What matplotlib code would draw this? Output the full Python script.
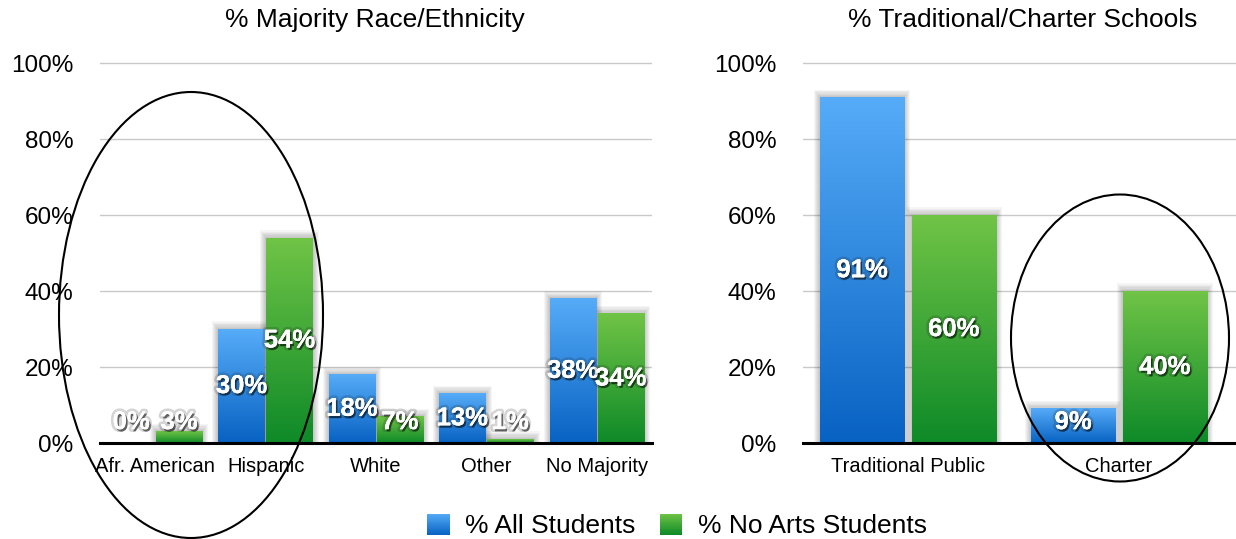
import numpy as np
import matplotlib
matplotlib.use('Agg')
import matplotlib.pyplot as plt
from matplotlib import font_manager
from matplotlib.patches import Ellipse, Rectangle, Patch
from matplotlib.colors import LinearSegmentedColormap, to_rgb
import matplotlib.patheffects as pe
from matplotlib.legend_handler import HandlerBase

# ---------------- data ----------------
race_categories = ["Afr. American", "Hispanic", "White", "Other", "No Majority"]
race_all = [0, 30, 18, 13, 38]
race_noarts = [3, 54, 7, 1, 34]
school_categories = ["Traditional Public", "Charter"]
school_all = [91, 9]
school_noarts = [60, 40]
series_names = ["% All Students", "% No Arts Students"]
yticks = [0, 20, 40, 60, 80, 100]
titles = ["% Majority Race/Ethnicity", "% Traditional/Charter Schools"]

BLUE = ("#56ACF8", "#0862C2")   # top, bottom
GREEN = ("#70C446", "#0E8A28")

plt.rcParams['font.family'] = ['Liberation Sans', 'DejaVu Sans']
_names = {f.name for f in font_manager.fontManager.ttflist}
LABEL_FONT = 'Liberation Sans Narrow' if 'Liberation Sans Narrow' in _names else 'Liberation Sans'
LABEL_SIZE = 21 if LABEL_FONT == 'Liberation Sans Narrow' else 18.5

FW, FH = 1236, 539
fig = plt.figure(figsize=(FW / 100, FH / 100), dpi=100)

OFF = 0.217


def px(x0, x1, y0, y1):
    return [x0 / FW, 1 - y1 / FH, (x1 - x0) / FW, (y1 - y0) / FH]


def style_axis(ax, cats, xlim):
    ax.set_xlim(*xlim)
    ax.set_ylim(0, 100.5)
    ax.set_yticks(yticks)
    ax.set_yticklabels([f"{t}%" for t in yticks])
    ax.set_xticks(range(len(cats)))
    ax.set_xticklabels(cats, fontsize=14.5)
    ax.tick_params(axis='y', length=0, pad=19, labelsize=17.5)
    ax.tick_params(axis='x', length=0, pad=10)
    ax.yaxis.grid(True, color='#C9C9C9', lw=1.0)
    ax.set_axisbelow(True)
    for s in ['top', 'right', 'left']:
        ax.spines[s].set_visible(False)
    ax.spines['bottom'].set_color('black')
    ax.spines['bottom'].set_linewidth(2.2)
    ax.spines['bottom'].set_zorder(6)


def grad_bars(ax, xs, vals, colors, bw):
    bars = ax.bar(xs, vals, width=bw, color='none', edgecolor='none', zorder=3)
    cmap = LinearSegmentedColormap.from_list('g', [colors[1], colors[0]])
    grad = np.linspace(0, 1, 256).reshape(-1, 1)
    xl = ax.get_xlim()
    ppx = ax.bbox.width / (xl[1] - xl[0])
    ppy = ax.bbox.height / 100.5
    for b in bars:
        x, w, h = b.get_x(), b.get_width(), b.get_height()
        if h <= 0:
            continue
        # soft shadow, strongest near the top
        for k in range(1, 7):
            dx = k * 1.0 / ppx
            dy = k * 1.3 / ppy
            ax.add_patch(Rectangle((x - dx, 0), w + 2 * dx, h + dy,
                                   facecolor='black', alpha=0.04,
                                   edgecolor='none', zorder=2.5))
        ax.imshow(grad, cmap=cmap, extent=(x, x + w, 0, h), origin='lower',
                  aspect='auto', zorder=3, interpolation='bilinear')
    return bars


def labels(ax, xs, vals):
    for x, v in zip(xs, vals):
        y = max(v / 2, 5.5)
        ax.text(x, y, f"{v}%", ha='center', va='center', color='white',
                fontsize=LABEL_SIZE, fontweight='bold', family=[LABEL_FONT, 'DejaVu Sans'],
                zorder=5,
                path_effects=[pe.withStroke(linewidth=4, foreground=(0.1, 0.1, 0.1, 0.18)),
                              pe.withSimplePatchShadow(offset=(1.2, -1.6),
                                                       shadow_rgbFace='black', alpha=0.55),
                              pe.Normal()])


def panel(rect, cats, all_vals, noarts_vals, xlim, bw):
    ax = fig.add_axes(rect)
    style_axis(ax, cats, xlim)
    xs = np.arange(len(cats))
    grad_bars(ax, xs - OFF, all_vals, BLUE, bw)
    grad_bars(ax, xs + OFF, noarts_vals, GREEN, bw)
    labels(ax, xs - OFF, all_vals)
    labels(ax, xs + OFF, noarts_vals)
    ax.set_xlim(*xlim)
    ax.set_ylim(0, 100.5)
    return ax


ax1 = panel(px(100, 652, 61.5, 443), race_categories, race_all, race_noarts, (-0.5, 4.5), 0.42)
ax2 = panel(px(803, 1236, 61.5, 443), school_categories, school_all, school_noarts,
            (-0.4976, -0.4976 + 433 / 211), 0.40)

fig.text(375 / FW, 1 - 20 / FH, titles[0], ha='center', va='center', fontsize=19)
fig.text(1023 / FW, 1 - 20 / FH, titles[1], ha='center', va='center', fontsize=19)

# highlight ellipses
fig.add_artist(Ellipse((191 / FW, 1 - 315 / FH), 264 / FW, 446 / FH,
                       transform=fig.transFigure, fill=False, edgecolor='black',
                       lw=1.5, zorder=10))
fig.add_artist(Ellipse((1120 / FW, 1 - 338 / FH), 218 / FW, 287 / FH,
                       transform=fig.transFigure, fill=False, edgecolor='black',
                       lw=1.5, zorder=10))


# legend with gradient squares
class GradHandler(HandlerBase):
    def __init__(self, colors):
        super().__init__()
        self.colors = colors

    def create_artists(self, legend, orig_handle, xdescent, ydescent,
                       width, height, fontsize, trans):
        top = np.array(to_rgb(self.colors[0]))
        bot = np.array(to_rgb(self.colors[1]))
        n = 24
        arts = []
        for i in range(n):
            f = (i + 0.5) / n
            arts.append(Rectangle((-xdescent, -ydescent + height * i / n), width,
                                  height / n * 1.05, facecolor=bot + (top - bot) * f,
                                  edgecolor='none', transform=trans))
        return arts


h1 = Patch(facecolor=BLUE[1])
h2 = Patch(facecolor=GREEN[1])
fig.legend([h1, h2], series_names, loc='center',
           bbox_to_anchor=(677 / FW, 1 - 526 / FH), ncol=2, frameon=False,
           fontsize=19, handlelength=0.85, handleheight=0.85,
           handletextpad=0.6, columnspacing=0.9, borderpad=0,
           handler_map={h1: GradHandler(BLUE), h2: GradHandler(GREEN)})

fig.savefig('out.png', dpi=100)
